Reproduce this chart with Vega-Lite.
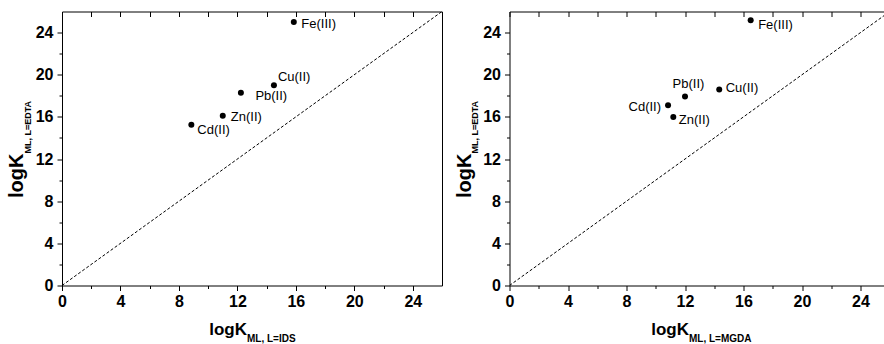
{
  "$schema": "https://vega.github.io/schema/vega-lite/v6.json",
  "padding": {"left": 6, "top": 10.5, "right": 0, "bottom": 0},
  "spacing": 10.5,
  "config": {
    "view": {"stroke": null},
    "font": "Liberation Sans",
    "axis": {"grid": false, "domainColor": "black", "tickColor": "black", "labelColor": "black", "titleColor": "black", "labelFont": "Liberation Sans", "titleFont": "Liberation Sans", "labelFontWeight": "bold", "labelFontSize": 16, "titleFontWeight": "bold", "domainWidth": 1, "tickWidth": 1, "labelPadding": 3, "titlePadding": 0, "labelFlush": false, "labelOverlap": false},
    "text": {"font": "Liberation Sans", "fontSize": 13, "color": "black"}
  },
  "datasets": {
    "diag": [{"x": 0, "y": 0}, {"x": 26, "y": 26}],
    "ids": [
      {"metal": "Fe(III)", "x": 15.86, "y": 25.0},
      {"metal": "Cu(II)", "x": 14.5, "y": 19.0},
      {"metal": "Pb(II)", "x": 12.24, "y": 18.3},
      {"metal": "Zn(II)", "x": 11.0, "y": 16.1},
      {"metal": "Cd(II)", "x": 8.85, "y": 15.25}
    ],
    "mgda": [
      {"metal": "Fe(III)", "x": 16.49, "y": 25.17},
      {"metal": "Cu(II)", "x": 14.34, "y": 18.6},
      {"metal": "Pb(II)", "x": 12.0, "y": 17.93},
      {"metal": "Cd(II)", "x": 10.84, "y": 17.1},
      {"metal": "Zn(II)", "x": 11.2, "y": 16.0}
    ]
  },
  "hconcat": [
    {
      "width": 380,
      "height": 274,
      "resolve": {"axis": {"x": "independent", "y": "independent"}},
      "layer": [
        {
          "data": {"name": "diag"},
          "mark": {"type": "line", "color": "black", "strokeWidth": 1, "strokeDash": [3, 2], "clip": true},
          "encoding": {
            "x": {"field": "x", "type": "quantitative", "scale": {"domain": [0, 26], "nice": false, "zero": false},
              "axis": {"orient": "bottom", "values": [0, 4, 8, 12, 16, 20, 24], "tickSize": 5, "title": "logK", "titleFontSize": 17, "titleAlign": "right", "titleBaseline": "alphabetic", "titleX": 184.5, "titleY": 49}},
            "y": {"field": "y", "type": "quantitative", "scale": {"domain": [0, 26], "nice": false, "zero": false},
              "axis": {"orient": "left", "values": [0, 4, 8, 12, 16, 20, 24], "tickSize": 5, "labelPadding": 4, "title": "logK", "titleFontSize": 20, "titleAngle": 270, "titleAlign": "right", "titleBaseline": "alphabetic", "titleX": -39.5, "titleY": 141.5}}
          }
        },
        {
          "data": {"name": "ids"},
          "mark": {"type": "circle", "color": "black", "opacity": 1, "size": 36},
          "encoding": {
            "x": {"field": "x", "type": "quantitative", "scale": {"domain": [0, 26], "nice": false, "zero": false},
              "axis": {"orient": "bottom", "values": [2, 6, 10, 14, 18, 22], "tickSize": 3, "labels": false, "domain": false, "title": "ML, L=IDS", "titleFontSize": 10, "titleAlign": "left", "titleBaseline": "alphabetic", "titleX": 184.5, "titleY": 55.5}},
            "y": {"field": "y", "type": "quantitative", "scale": {"domain": [0, 26], "nice": false, "zero": false},
              "axis": {"orient": "left", "values": [2, 6, 10, 14, 18, 22], "tickSize": 3, "labels": false, "domain": false, "title": "ML, L=EDTA", "titleFontSize": 9, "titleAngle": 270, "titleAlign": "left", "titleBaseline": "alphabetic", "titleX": -31.8, "titleY": 141.5}}
          }
        },
        {
          "data": {"name": "ids"},
          "transform": [{"filter": "datum.metal === 'Fe(III)'"}],
          "mark": {"type": "text", "align": "left", "baseline": "middle", "dx": 7.5, "dy": 2},
          "encoding": {
            "x": {"field": "x", "type": "quantitative", "scale": {"domain": [0, 26], "nice": false, "zero": false},
              "axis": {"orient": "top", "values": [0, 2, 4, 6, 8, 10, 12, 14, 16, 18, 20, 22, 24, 26], "tickSize": -5, "labels": false, "domain": true, "title": null}},
            "y": {"field": "y", "type": "quantitative", "scale": {"domain": [0, 26], "nice": false, "zero": false},
              "axis": {"orient": "right", "ticks": false, "labels": false, "domain": true, "title": null}},
            "text": {"field": "metal"}
          }
        },
        {
          "data": {"name": "ids"},
          "transform": [{"filter": "datum.metal === 'Cu(II)'"}],
          "mark": {"type": "text", "align": "left", "baseline": "middle", "dx": 4, "dy": -8},
          "encoding": {
            "x": {"field": "x", "type": "quantitative", "scale": {"domain": [0, 26], "nice": false, "zero": false}, "axis": null},
            "y": {"field": "y", "type": "quantitative", "scale": {"domain": [0, 26], "nice": false, "zero": false}, "axis": null},
            "text": {"field": "metal"}
          }
        },
        {
          "data": {"name": "ids"},
          "transform": [{"filter": "datum.metal === 'Pb(II)'"}],
          "mark": {"type": "text", "align": "left", "baseline": "middle", "dx": 14.5, "dy": 3},
          "encoding": {
            "x": {"field": "x", "type": "quantitative", "scale": {"domain": [0, 26], "nice": false, "zero": false}, "axis": null},
            "y": {"field": "y", "type": "quantitative", "scale": {"domain": [0, 26], "nice": false, "zero": false}, "axis": null},
            "text": {"field": "metal"}
          }
        },
        {
          "data": {"name": "ids"},
          "transform": [{"filter": "datum.metal === 'Zn(II)'"}],
          "mark": {"type": "text", "align": "left", "baseline": "middle", "dx": 8, "dy": 1},
          "encoding": {
            "x": {"field": "x", "type": "quantitative", "scale": {"domain": [0, 26], "nice": false, "zero": false}, "axis": null},
            "y": {"field": "y", "type": "quantitative", "scale": {"domain": [0, 26], "nice": false, "zero": false}, "axis": null},
            "text": {"field": "metal"}
          }
        },
        {
          "data": {"name": "ids"},
          "transform": [{"filter": "datum.metal === 'Cd(II)'"}],
          "mark": {"type": "text", "align": "left", "baseline": "middle", "dx": 6, "dy": 5},
          "encoding": {
            "x": {"field": "x", "type": "quantitative", "scale": {"domain": [0, 26], "nice": false, "zero": false}, "axis": null},
            "y": {"field": "y", "type": "quantitative", "scale": {"domain": [0, 26], "nice": false, "zero": false}, "axis": null},
            "text": {"field": "metal"}
          }
        }
      ]
    },
    {
      "width": 375,
      "height": 274,
      "resolve": {"axis": {"x": "independent", "y": "independent"}},
      "layer": [
        {
          "data": {"name": "diag"},
          "mark": {"type": "line", "color": "black", "strokeWidth": 1, "strokeDash": [3, 2], "clip": true},
          "encoding": {
            "x": {"field": "x", "type": "quantitative", "scale": {"domain": [0, 25.64], "nice": false, "zero": false},
              "axis": {"orient": "bottom", "values": [0, 4, 8, 12, 16, 20, 24], "tickSize": 5, "title": "logK", "titleFontSize": 17, "titleAlign": "right", "titleBaseline": "alphabetic", "titleX": 179, "titleY": 49}},
            "y": {"field": "y", "type": "quantitative", "scale": {"domain": [0, 26], "nice": false, "zero": false},
              "axis": {"orient": "left", "values": [0, 4, 8, 12, 16, 20, 24], "tickSize": 5, "labelPadding": 4, "title": "logK", "titleFontSize": 20, "titleAngle": 270, "titleAlign": "right", "titleBaseline": "alphabetic", "titleX": -39.5, "titleY": 141.5}}
          }
        },
        {
          "data": {"name": "mgda"},
          "mark": {"type": "circle", "color": "black", "opacity": 1, "size": 36},
          "encoding": {
            "x": {"field": "x", "type": "quantitative", "scale": {"domain": [0, 25.64], "nice": false, "zero": false},
              "axis": {"orient": "bottom", "values": [2, 6, 10, 14, 18, 22], "tickSize": 3, "labels": false, "domain": false, "title": "ML, L=MGDA", "titleFontSize": 10, "titleAlign": "left", "titleBaseline": "alphabetic", "titleX": 179, "titleY": 55.5}},
            "y": {"field": "y", "type": "quantitative", "scale": {"domain": [0, 26], "nice": false, "zero": false},
              "axis": {"orient": "left", "values": [2, 6, 10, 14, 18, 22], "tickSize": 3, "labels": false, "domain": false, "title": "ML, L=EDTA", "titleFontSize": 9, "titleAngle": 270, "titleAlign": "left", "titleBaseline": "alphabetic", "titleX": -31.8, "titleY": 141.5}}
          }
        },
        {
          "data": {"name": "mgda"},
          "transform": [{"filter": "datum.metal === 'Fe(III)'"}],
          "mark": {"type": "text", "align": "left", "baseline": "middle", "dx": 7.5, "dy": 5},
          "encoding": {
            "x": {"field": "x", "type": "quantitative", "scale": {"domain": [0, 25.64], "nice": false, "zero": false},
              "axis": {"orient": "top", "values": [0, 2, 4, 6, 8, 10, 12, 14, 16, 18, 20, 22, 24], "tickSize": -5, "labels": false, "domain": true, "title": null}},
            "y": {"field": "y", "type": "quantitative", "scale": {"domain": [0, 26], "nice": false, "zero": false}, "axis": null},
            "text": {"field": "metal"}
          }
        },
        {
          "data": {"name": "mgda"},
          "transform": [{"filter": "datum.metal === 'Cu(II)'"}],
          "mark": {"type": "text", "align": "left", "baseline": "middle", "dx": 6.5, "dy": -1},
          "encoding": {
            "x": {"field": "x", "type": "quantitative", "scale": {"domain": [0, 25.64], "nice": false, "zero": false}, "axis": null},
            "y": {"field": "y", "type": "quantitative", "scale": {"domain": [0, 26], "nice": false, "zero": false}, "axis": null},
            "text": {"field": "metal"}
          }
        },
        {
          "data": {"name": "mgda"},
          "transform": [{"filter": "datum.metal === 'Pb(II)'"}],
          "mark": {"type": "text", "align": "center", "baseline": "middle", "dx": 3.5, "dy": -13},
          "encoding": {
            "x": {"field": "x", "type": "quantitative", "scale": {"domain": [0, 25.64], "nice": false, "zero": false}, "axis": null},
            "y": {"field": "y", "type": "quantitative", "scale": {"domain": [0, 26], "nice": false, "zero": false}, "axis": null},
            "text": {"field": "metal"}
          }
        },
        {
          "data": {"name": "mgda"},
          "transform": [{"filter": "datum.metal === 'Cd(II)'"}],
          "mark": {"type": "text", "align": "right", "baseline": "middle", "dx": -7, "dy": 2},
          "encoding": {
            "x": {"field": "x", "type": "quantitative", "scale": {"domain": [0, 25.64], "nice": false, "zero": false}, "axis": null},
            "y": {"field": "y", "type": "quantitative", "scale": {"domain": [0, 26], "nice": false, "zero": false}, "axis": null},
            "text": {"field": "metal"}
          }
        },
        {
          "data": {"name": "mgda"},
          "transform": [{"filter": "datum.metal === 'Zn(II)'"}],
          "mark": {"type": "text", "align": "left", "baseline": "middle", "dx": 5.5, "dy": 3},
          "encoding": {
            "x": {"field": "x", "type": "quantitative", "scale": {"domain": [0, 25.64], "nice": false, "zero": false}, "axis": null},
            "y": {"field": "y", "type": "quantitative", "scale": {"domain": [0, 26], "nice": false, "zero": false}, "axis": null},
            "text": {"field": "metal"}
          }
        }
      ]
    }
  ]
}
